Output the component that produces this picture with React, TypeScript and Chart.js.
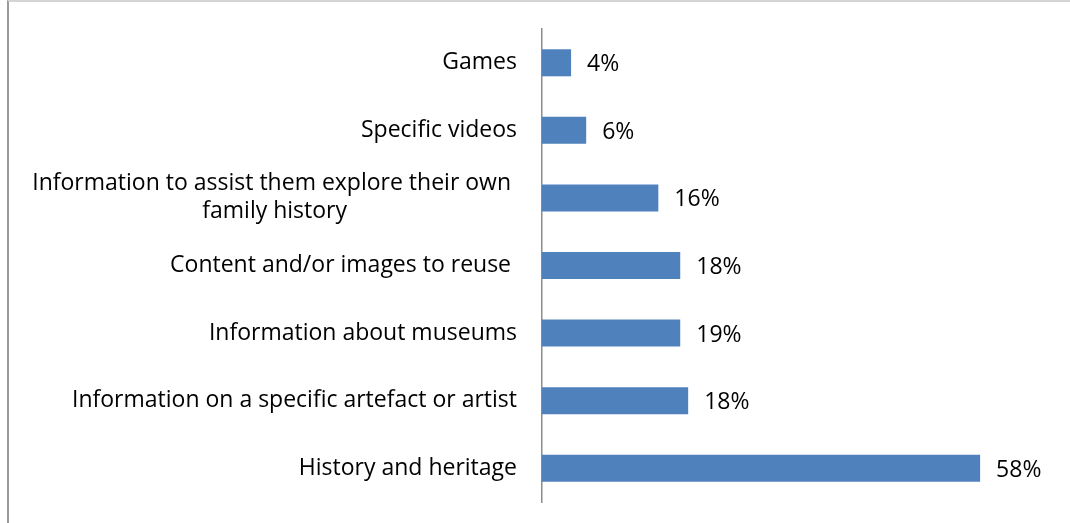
import React, { useEffect, useRef } from "react";
import { Chart, registerables } from "chart.js";

Chart.register(...registerables);

const categories: string[][] = [
  ["Games"],
  ["Specific videos"],
  ["Information to assist them explore their own ", "family history"],
  ["Content and/or images to reuse "],
  ["Information about museums"],
  ["Information on a specific artefact or artist"],
  ["History and heritage"],
];
const barValues: number[] = [3.85, 5.85, 15.4, 18.3, 18.3, 19.35, 58];
const valueLabels: string[] = ["4%", "6%", "16%", "18%", "19%", "18%", "58%"];

const FONT = "23px 'Open Sans'";

const labelPlugin = {
  id: "customLabels",
  afterDatasetsDraw(chart: any) {
    const ctx = chart.ctx as CanvasRenderingContext2D;
    const yScale = chart.scales.y;
    const meta = chart.getDatasetMeta(0);
    const left = chart.chartArea.left;
    ctx.save();
    ctx.font = FONT;
    ctx.fillStyle = "#000000";
    ctx.textBaseline = "alphabetic";
    const lineH = 28;
    categories.forEach((lines, i) => {
      const yc = yScale.getPixelForValue(i);
      const right = left - 25;
      const blockW = Math.max(...lines.map((l) => ctx.measureText(l).width));
      const startY = yc + 6.5 - ((lines.length - 1) * lineH) / 2;
      lines.forEach((line, j) => {
        const y = startY + j * lineH;
        if (lines.length > 1) {
          ctx.textAlign = "center";
          ctx.fillText(line, right - blockW / 2, y);
        } else {
          ctx.textAlign = "right";
          ctx.fillText(line, right, y);
        }
      });
    });
    ctx.textAlign = "left";
    meta.data.forEach((bar: any, i: number) => {
      ctx.fillText(valueLabels[i], bar.x + 16, bar.y + 8.5);
    });
    ctx.restore();
  },
};

export default function App() {
  const ref = useRef<HTMLCanvasElement | null>(null);
  useEffect(() => {
    if (!ref.current) return;
    const chart = new Chart(ref.current, {
      type: "bar",
      data: {
        labels: categories.map((c) => c.join("")),
        datasets: [
          {
            data: barValues,
            backgroundColor: "#4f81bd",
            borderWidth: 0,
            barPercentage: 0.4,
            categoryPercentage: 1,
          },
        ],
      },
      options: {
        indexAxis: "y",
        responsive: false,
        animation: false,
        layout: { padding: { left: 542, top: 29, bottom: 21, right: 37 } },
        plugins: { legend: { display: false }, tooltip: { enabled: false } },
        scales: {
          x: { display: false, min: 0, max: 65 },
          y: {
            display: true,
            grid: { display: false },
            border: { display: true, color: "#8c8c8c", width: 1.5 },
            ticks: { display: false },
            afterFit: (s: any) => {
              s.width = 0;
            },
          },
        },
      },
      plugins: [labelPlugin],
    });
    return () => chart.destroy();
  }, []);
  return (
    <div style={{ position: "absolute", left: 0, top: 0, width: 1070, height: 523, background: "#fff" }}>
      <div
        style={{
          position: "absolute",
          left: 7,
          top: 0,
          width: 1070,
          height: 540,
          borderLeft: "2px solid #9a9a9a",
          borderTop: "2px solid #d4d4d4",
          boxSizing: "border-box",
        }}
      />
      <canvas ref={ref} width={1070} height={523} style={{ position: "absolute", left: 0, top: 0 }} />
    </div>
  );
}
